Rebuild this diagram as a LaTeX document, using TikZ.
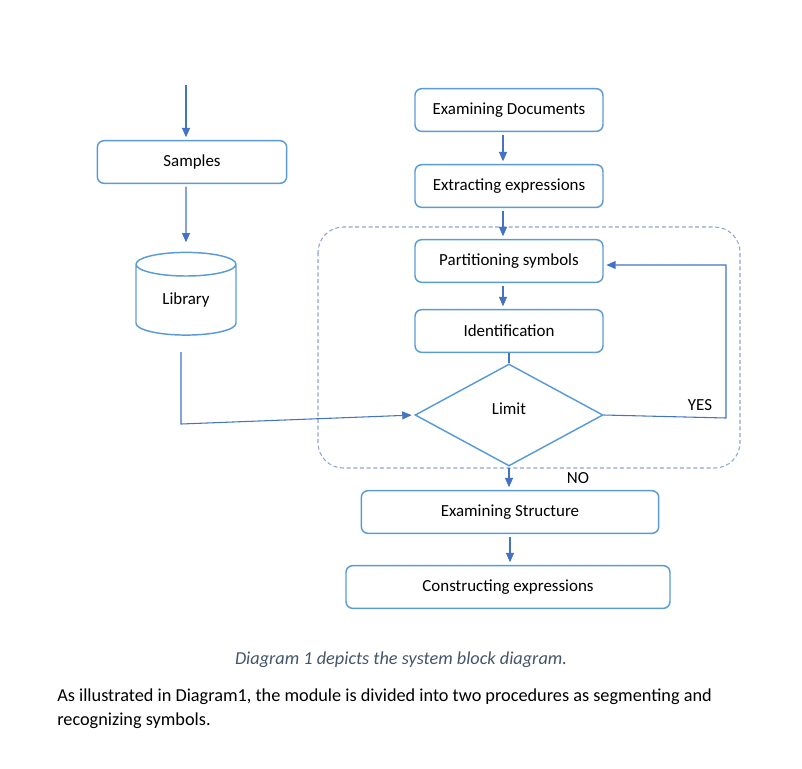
\documentclass[tikz,border=0pt]{standalone}
\usepackage{fontspec}
\setmainfont{Carlito}
\usetikzlibrary{shapes.geometric,arrows.meta}
\definecolor{boxblue}{RGB}{91,155,213}
\definecolor{arrblue}{RGB}{68,114,196}
\definecolor{dashblue}{RGB}{143,165,210}
\definecolor{capgray}{RGB}{68,84,106}
\tikzset{
  stepbox/.style={draw=boxblue, line width=1.1pt, rounded corners=5pt,
    minimum height=32pt, inner sep=0pt, font=\fontsize{12.7}{15}\selectfont},
  arr/.style={arrblue, line width=0.8pt, -{Triangle[width=6pt,length=7pt]},
    shorten <=2pt, shorten >=2pt},
  conn/.style={arrblue, line width=0.8pt}
}
\begin{document}
\begin{tikzpicture}[x=0.75pt, y=-0.75pt]
  \useasboundingbox (0,0) rectangle (802,768);

  % Left column: samples and library
  \coordinate (in) at (186,82);
  \node[stepbox, minimum width=142pt] (samp) at (192,162) {Samples};
  \node[draw=boxblue, line width=1.1pt, cylinder, shape border rotate=90,
    aspect=0.5, minimum width=75pt, minimum height=62pt, inner sep=0pt,
    font=\fontsize{12.7}{15}\selectfont] (lib) at (186,300) {Library};
  \draw[arr] (in) -- (in |- samp.north);
  \draw[arr] (in |- samp.south) -- ([yshift=5pt]lib.north);

  % Segmenting and recognizing block
  \draw[dashblue, line width=0.8pt, dash pattern=on 3pt off 2pt,
    rounded corners=19pt] (318,227) rectangle (740,468);

  % Right column
  \node[stepbox, minimum width=141pt] (exdoc) at (509,110) {Examining Documents};
  \node[stepbox, minimum width=141pt] (exexp) at (509,186) {Extracting expressions};
  \node[stepbox, minimum width=141pt] (part) at (509,261) {Partitioning symbols};
  \node[stepbox, minimum width=141pt] (ident) at (509,331) {Identification};
  \node[diamond, draw=boxblue, line width=1.1pt, minimum width=141pt,
    minimum height=76.5pt, inner sep=0pt, text depth=10pt,
    font=\fontsize{12.7}{15}\selectfont] (lim) at (509,415) {Limit};
  \node[stepbox, minimum width=223pt] (exstr) at (510,512) {Examining Structure};
  \node[stepbox, minimum width=243pt] (cons) at (508,587) {Constructing expressions};

  \foreach \a/\b in {exdoc/exexp, exexp/part, part/ident} {
    \draw[arr] ([xshift=-4.5pt]\a.south) -- ([xshift=-4.5pt]\b.north);
  }
  \draw[conn] (ident.south) -- (lim.north);

  % Library into the decision
  \coordinate (libout) at (181,352);
  \coordinate (libbend) at (181,424);
  \draw[arr, shorten <=0pt] (libout) -- (libbend) -- (lim.west);

  % YES loop back
  \coordinate (loop) at (726,418);
  \draw[arr, shorten <=0pt] (lim.east) -- (loop) |- ([yshift=-3pt]part.east);
  \node[font=\fontsize{12.7}{15}\selectfont] (yes) at (700,405) {YES};

  % NO way out
  \draw[arr, shorten <=1pt] (lim.south) -- (lim.south |- exstr.north);
  \node[font=\fontsize{12.7}{15}\selectfont] (no) at (578,478) {NO};
  \draw[arr] (exstr.south) -- (exstr.south |- cons.north);

  % Caption and text
  \node[font=\itshape\fontsize{13.7}{16}\selectfont, text=capgray] (cap)
    at (401,660) {Diagram 1 depicts the system block diagram.};
  \node[anchor=west, align=left, inner sep=0pt,
    font=\fontsize{13.7}{18}\selectfont] (para) at (57,709)
    {As illustrated in Diagram1, the module is divided into two procedures as segmenting and\\
     recognizing symbols.};
\end{tikzpicture}
\end{document}
